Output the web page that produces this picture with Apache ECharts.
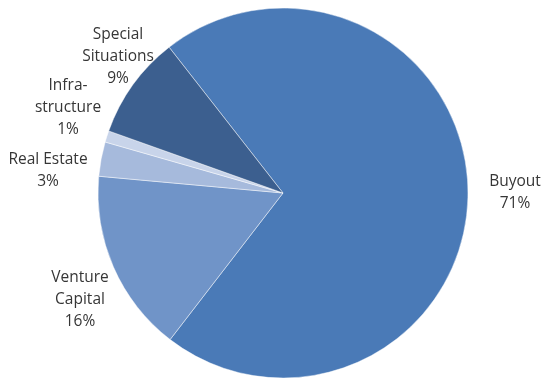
<!DOCTYPE html>
<html>
<head>
<meta charset="utf-8">
<script src="https://cdn.jsdelivr.net/npm/echarts@6/dist/echarts.min.js"></script>
<style>
  html, body { margin: 0; padding: 0; background: #fff; }
  #chart { width: 543px; height: 379px; }
</style>
</head>
<body>
<div id="chart"></div>
<script>
// Allocation by strategy (percent of total)
const categories = ['Buyout', 'Venture\nCapital', 'Real Estate', 'Infra-\nstructure', 'Special\nSituations'];
const shares = [71, 16, 3, 1, 9];

// Slice fill colours, same order as the categories
const sliceColors = ['#4a7ab7', '#7094c8', '#a6badc', '#c8d4ea', '#3c5f8f'];

// Centre points of each label block (pixels), same order as the categories
const labelCenters = [
  [515, 193],
  [80, 300],
  [48, 171],
  [68, 108],
  [118, 57]
];

const chart = echarts.init(document.getElementById('chart'), null, { renderer: 'canvas' });

chart.setOption({
  animation: false,
  series: [{
    type: 'pie',
    center: [283, 193],
    radius: 185,
    startAngle: 128,
    clockwise: true,
    percentPrecision: 0,
    data: categories.map((name, i) => ({
      name: name,
      value: shares[i],
      itemStyle: { color: sliceColors[i] }
    })),
    itemStyle: {
      borderColor: 'rgba(255,255,255,0.45)',
      borderWidth: 1
    },
    label: {
      show: true,
      position: 'outside',
      formatter: '{b}\n{d}%',
      color: '#363636',
      fontFamily: 'Open Sans',
      fontSize: 15.5,
      lineHeight: 22,
      align: 'center',
      overflow: 'none',
      width: 200
    },
    labelLine: { show: false },
    labelLayout: function (params) {
      const c = labelCenters[params.dataIndex];
      return {
        x: c[0],
        y: c[1],
        align: 'center',
        verticalAlign: 'middle'
      };
    },
    emphasis: { disabled: true }
  }]
});
</script>
</body>
</html>
